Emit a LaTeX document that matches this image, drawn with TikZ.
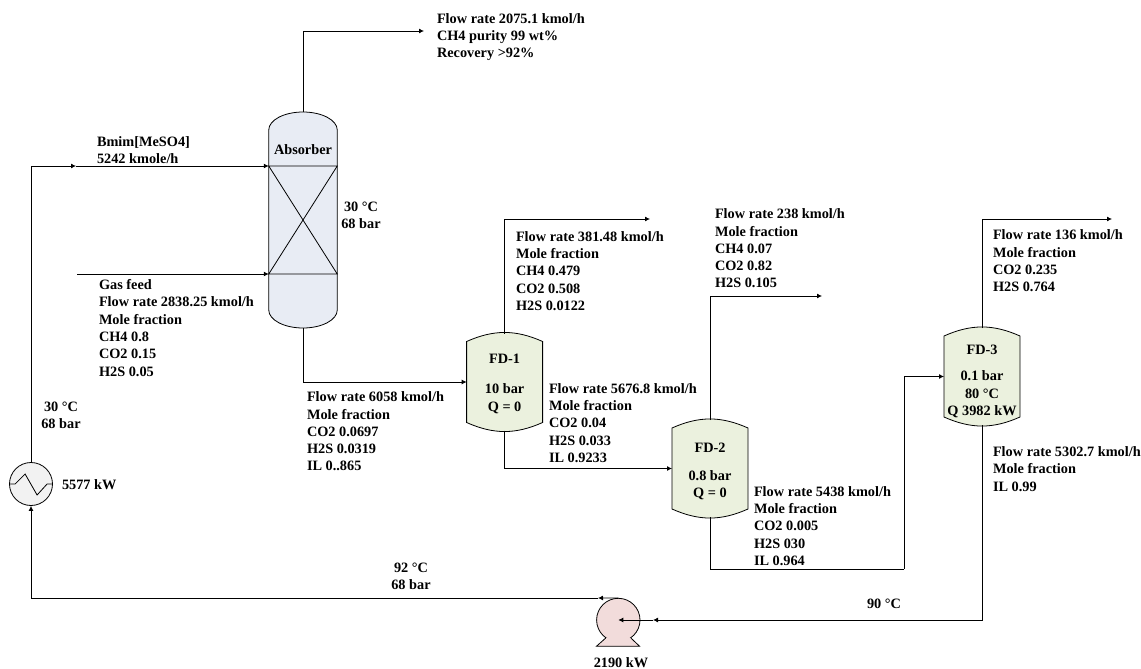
\documentclass[tikz,border=0pt]{standalone}
\usepackage{fontspec}
\setmainfont{Liberation Serif}
\usepackage{tikz}
\usetikzlibrary{arrows.meta, calc, backgrounds}

\definecolor{colfill}{HTML}{E8ECF4}
\definecolor{drumfill}{HTML}{EBF1DE}
\definecolor{hxfill}{HTML}{F2F2F2}
\definecolor{pumpfill}{HTML}{F2DCDB}

\begin{document}
\begin{tikzpicture}[
	x=1pt, y=-1pt,
	txt/.style={font=\fontsize{14.3}{17.3}\selectfont\bfseries, inner sep=0pt, outer sep=0pt},
	note/.style={txt, anchor=west, align=left},
	tag/.style={txt, align=center},
	flow/.style={draw=black, line width=0.8pt},
	arrow/.style={flow, -{Latex[length=5pt,width=5pt]}},
	column/.style={rectangle, inner sep=0pt, outer sep=0pt, minimum width=68.5pt, minimum height=216pt},
	drum/.style={rectangle, inner sep=0pt, outer sep=0pt, minimum width=76pt, minimum height=97pt},
	exchanger/.style={circle, flow, fill=hxfill, minimum size=43pt, inner sep=0pt},
	pumpbody/.style={circle, flow, fill=pumpfill, minimum size=43.4pt, inner sep=0pt}
]
\useasboundingbox (0,0) rectangle (1141,669);

% Units
\node[column] (absorber) at (303,220) {};
\node[drum] (fd1) at (504.6,382) {};
\node[drum] (fd2) at (710,468.5) {};
\node[drum] (fd3) at (982,376.5) {};
\node[exchanger] (hx) at (31,484) {};
\node[pumpbody] (pump) at (618.3,620) {};

% Vessel outlines
\begin{scope}[on background layer]
	\draw[flow, fill=colfill] ([yshift=-18pt]absorber.north west)
		arc[start angle=180, end angle=0, x radius=34.25pt, y radius=18pt]
		-- ([yshift=18pt]absorber.south east)
		arc[start angle=0, end angle=-180, x radius=34.25pt, y radius=18pt] -- cycle;
	\draw[flow] ([yshift=54pt]absorber.west) -- ([yshift=54pt]absorber.east)
		-- ([yshift=-54pt]absorber.west) -- ([yshift=-54pt]absorber.east) -- cycle;
	\foreach \unit in {fd1,fd2,fd3}
		\draw[flow, fill=drumfill] ([yshift=-8pt]\unit.north west) to[bend left=24] ([yshift=-8pt]\unit.north east)
			-- ([yshift=8pt]\unit.south east) to[bend left=24] ([yshift=8pt]\unit.south west) -- cycle;
\end{scope}

% Pump base and exchanger coil
\draw[flow, fill=pumpfill] (pump.235) -- ++(-9.2,8.2) -- ++(43.2,0) -- (pump.305);
\draw[flow] (hx.west) -- ++(6,0) -- ++(10,-10) -- ++(12,21) -- ++(10,-11) -- (hx.east);

% Free ends of the streams
\coordinate (gasout) at (424,31);
\coordinate (solvent) at (76,166);
\coordinate (feed) at (77,274);
\coordinate (fd1out) at (650,219);
\coordinate (fd2out) at (822,296);
\coordinate (fd3out) at (1112,219);
\coordinate (riser) at (904,569);
\coordinate (pumpin) at (653,620);
\coordinate (pumpout) at (598,598);

% Streams
\draw[arrow] (absorber.north) |- (gasout);
\draw[arrow] (hx.north) |- (solvent);
\draw[arrow] (solvent) -- (solvent -| absorber.west);
\draw[arrow] (feed) -- (feed -| absorber.west);
\draw[arrow] (absorber.south) |- (fd1.west);
\draw[arrow] (fd1.north) |- (fd1out);
\draw[arrow] (fd1.south) |- (fd2.west);
\draw[arrow] (fd2.north) |- (fd2out);
\draw[flow] (fd2.south) |- (riser);
\draw[arrow] (riser) |- (fd3.west);
\draw[arrow] (fd3.north) |- (fd3out);
\draw[arrow] (fd3.south) |- (pumpin);
\draw[arrow] (pumpin) -- (pump.center);
\draw[arrow] (pump.north) -- (pumpout);
\draw[arrow] (pumpout) -| (hx.south);

% Unit labels
\node[tag] (abstitle) at (303,150) {Absorber};
\node[tag] (fd1text) at ($(fd1)+(0,2)$) {FD-1\\[12.7pt]10 bar\\Q = 0};
\node[tag] (fd2text) at ($(fd2)+(0,3)$) {FD-2\\[10.7pt]0.8 bar\\Q = 0};
\node[tag] (fd3text) at ($(fd3)+(0,5)$) {FD-3\\[8.7pt]0.1 bar\\80 °C\\Q 3982 kW};

% Stream labels
\node[note] (gaslabel) at (437,37) {Flow rate 2075.1 kmol/h\\CH4 purity 99 wt\%\\Recovery >92\%};
\node[note] (solventlabel) at (97,150) {Bmim[MeSO4]\\5242 kmole/h};
\node[note] (feedlabel) at (99,328) {Gas feed\\Flow rate 2838.25 kmol/h\\Mole fraction\\CH4 0.8\\CO2 0.15\\H2S 0.05};
\node[tag] (abslabel) at (361,215) {30 °C\\68 bar};
\node[note] (richlabel) at (307,431.5) {Flow rate 6058 kmol/h\\Mole fraction\\CO2 0.0697\\H2S 0.0319\\IL 0..865};
\node[note] (vap1label) at (516,271) {Flow rate 381.48 kmol/h\\Mole fraction\\CH4 0.479\\CO2 0.508\\H2S 0.0122};
\node[note] (liq1label) at (549,423) {Flow rate 5676.8 kmol/h\\Mole fraction\\CO2 0.04\\H2S 0.033\\IL 0.9233};
\node[note] (vap2label) at (715,248.5) {Flow rate 238 kmol/h\\Mole fraction\\CH4 0.07\\CO2 0.82\\H2S 0.105};
\node[note] (liq2label) at (754,526) {Flow rate 5438 kmol/h\\Mole fraction\\CO2 0.005\\H2S 030\\IL 0.964};
\node[note] (vap3label) at (993,261) {Flow rate 136 kmol/h\\Mole fraction\\CO2 0.235\\H2S 0.764};
\node[note] (liq3label) at (993,469) {Flow rate 5302.7 kmol/h\\Mole fraction\\IL 0.99};
\node[tag] (leanlabel) at (61,415) {30 °C\\68 bar};
\node[note] (hxlabel) at (62,485) {5577 kW};
\node[tag] (backlabel) at (411,576) {92 °C\\68 bar};
\node[tag] (pumpinlabel) at (884,604) {90 °C};
\node[tag] (pumplabel) at (621,663) {2190 kW};

\end{tikzpicture}
\end{document}
